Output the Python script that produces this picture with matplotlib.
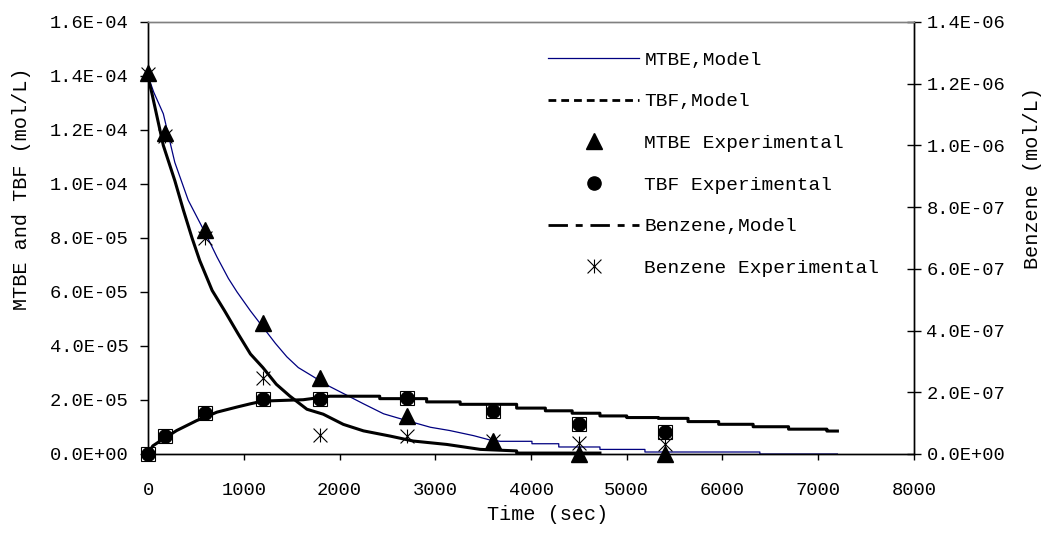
import matplotlib
matplotlib.use('Agg')
import matplotlib.pyplot as plt
from matplotlib.lines import Line2D
from matplotlib.path import Path
from matplotlib.ticker import MultipleLocator, FormatStrFormatter

plt.rcParams['font.family'] = ['Liberation Mono', 'DejaVu Sans Mono']

## experimental sampling times (sec)
exp_t = [0, 180, 600, 1200, 1800, 2700, 3600, 4500, 5400]
mtbe_exp = [1.41e-4, 1.19e-4, 8.3e-5, 4.87e-5, 2.8e-5, 1.39e-5, 4.8e-6, 0, 0]
tbf_exp = [0, 6.5e-6, 1.52e-5, 2.02e-5, 2.02e-5, 2.07e-5, 1.59e-5, 1.10e-5, 8.2e-6]
benz_exp = [1.23e-6, 1.03e-6, 7.0e-7, 2.45e-7, 6.2e-8, 5.8e-8, 4.2e-8, 3.7e-8, 3.1e-8]

## model curves (repeated times = stair steps in the tail)
mtbe_t = [0, 60, 160, 280, 420, 610, 720, 840, 930, 1070, 1200, 1330, 1450, 1570, 1710,
          1870, 2080, 2250, 2460, 2700, 2950, 3150, 3400, 3570, 3680,
          4010, 4010, 4290, 4290, 4720, 4720, 5190, 5190, 6390, 6390, 7200]
mtbe_v = [1.40e-4, 1.34e-4, 1.26e-4, 1.08e-4, 9.4e-5, 8.1e-5, 7.3e-5, 6.5e-5, 6.0e-5,
          5.3e-5, 4.7e-5, 4.1e-5, 3.6e-5, 3.2e-5, 2.9e-5, 2.55e-5, 2.17e-5, 1.86e-5,
          1.49e-5, 1.24e-5, 9.9e-6, 8.7e-6, 6.8e-6, 5.2e-6, 4.7e-6,
          4.7e-6, 3.8e-6, 3.8e-6, 2.6e-6, 2.6e-6, 1.7e-6, 1.7e-6, 7.4e-7, 7.4e-7, 0, 0]

tbf_t = [0, 50, 160, 300, 510, 720, 930, 1070, 1200, 1450, 1620, 1900,
         2420, 2420, 2910, 2910, 3260, 3260, 3850, 3850, 4150, 4150, 4430, 4430,
         4720, 4720, 5000, 5000, 5330, 5330, 5640, 5640, 5960, 5960, 6320, 6320,
         6690, 6690, 7090, 7090, 7200]
tbf_v = [0, 3.0e-6, 5.6e-6, 8.7e-6, 1.24e-5, 1.55e-5, 1.74e-5, 1.86e-5, 1.96e-5,
         1.99e-5, 2.01e-5, 2.14e-5,
         2.14e-5, 2.05e-5, 2.05e-5, 1.93e-5, 1.93e-5, 1.84e-5, 1.84e-5, 1.70e-5,
         1.70e-5, 1.60e-5, 1.60e-5, 1.51e-5, 1.51e-5, 1.41e-5, 1.41e-5, 1.35e-5,
         1.35e-5, 1.32e-5, 1.32e-5, 1.20e-5, 1.20e-5, 1.10e-5, 1.10e-5, 1.01e-5,
         1.01e-5, 9.2e-6, 9.2e-6, 8.5e-6, 8.5e-6]

benz_t = [0, 40, 160, 280, 370, 460, 540, 670, 800, 940, 1070, 1200, 1340, 1480, 1660,
          1830, 2040, 2250, 2530, 2770, 3120, 3470, 3850, 3850, 4720]
benz_v = [1.22e-6, 1.17e-6, 1.0e-6, 8.86e-7, 7.9e-7, 7.0e-7, 6.27e-7, 5.3e-7, 4.64e-7,
          3.9e-7, 3.24e-7, 2.8e-7, 2.26e-7, 1.88e-7, 1.45e-7, 1.29e-7, 9.6e-8, 7.5e-8,
          5.8e-8, 4.2e-8, 3.1e-8, 1.5e-8, 1.0e-8, 3e-9, 3e-9]

# Excel style star marker: X with a vertical bar
star = Path([(-1, -1), (1, 1), (-1, 1), (1, -1), (0, -1), (0, 1)],
            [Path.MOVETO, Path.LINETO, Path.MOVETO, Path.LINETO, Path.MOVETO, Path.LINETO])

fig = plt.figure(figsize=(10.53, 5.44), dpi=100)
ax = fig.add_axes([148/1053, 90/544, 766/1053, 432/544])
ax2 = ax.twinx()

ax.plot(mtbe_t, mtbe_v, color='#000080', lw=0.9)
ax.plot(tbf_t, tbf_v, color='black', lw=2.2)
ax2.plot(benz_t, benz_v, color='black', lw=2.2)

ax.plot(exp_t, mtbe_exp, ls='none', marker='^', ms=12, color='black', clip_on=False, zorder=5)
ax.plot(exp_t, tbf_exp, ls='none', marker='s', ms=10, mfc='none', mec='black', mew=0.8,
        clip_on=False, zorder=5)
ax.plot(exp_t, tbf_exp, ls='none', marker='o', ms=9.5, color='black', clip_on=False, zorder=6)
ax2.plot(exp_t, benz_exp, ls='none', marker=star, ms=10, mfc='none', mec='black', mew=0.8,
         clip_on=False, zorder=6)

ax.set_xlim(0, 8000)
ax.set_ylim(0, 1.6e-4)
ax2.set_ylim(0, 1.4e-6)
ax.xaxis.set_major_locator(MultipleLocator(1000))
ax.yaxis.set_major_locator(MultipleLocator(2e-5))
ax2.yaxis.set_major_locator(MultipleLocator(2e-7))
ax.yaxis.set_major_formatter(FormatStrFormatter('%.1E'))
ax2.yaxis.set_major_formatter(FormatStrFormatter('%.1E'))

ax.tick_params(axis='x', direction='out', length=4, width=1, labelsize=13.5, pad=16)
ax.tick_params(axis='y', direction='out', length=6, width=1, labelsize=13.5, pad=8)
ax2.tick_params(axis='y', direction='inout', length=10, width=1, labelsize=13.5, pad=4)

for a in (ax, ax2):
    a.spines['top'].set_color('#808080')
    a.spines['top'].set_linewidth(1)
    for s in ('left', 'right', 'bottom'):
        a.spines[s].set_color('black')
        a.spines[s].set_linewidth(1)

fig.text(22/1053, 1-189/544, 'MTBE and TBF (mol/L)', rotation=90, ha='center', va='center', fontsize=14.5)
fig.text(1032/1053, 1-178/544, 'Benzene (mol/L)', rotation=90, ha='center', va='center', fontsize=14.5)
fig.text(548/1053, 1-514/544, 'Time (sec)', ha='center', va='center', fontsize=14.5)

## legend with the dash styles of the original series
handles = [
    Line2D([], [], color='#000080', lw=0.9),
    Line2D([], [], color='black', lw=2.0, dashes=(2.8, 1.8)),
    Line2D([], [], ls='none', marker='^', ms=12, color='black'),
    Line2D([], [], ls='none', marker='o', ms=9.5, color='black'),
    Line2D([], [], color='black', lw=2.0, dashes=(7, 2.8, 2.5, 2.8)),
    Line2D([], [], ls='none', marker=star, ms=10, mfc='none', mec='black', mew=0.8),
]
labels = ['MTBE,Model', 'TBF,Model', 'MTBE Experimental', 'TBF Experimental',
          'Benzene,Model', 'Benzene Experimental']
ax2.legend(handles, labels, loc='upper left', bbox_to_anchor=(548/1053, 1-51/544),
           bbox_transform=fig.transFigure, frameon=False, fontsize=14, borderpad=0,
           borderaxespad=0, handlelength=4.7, handletextpad=0.25, labelspacing=1.24,
           numpoints=1)

fig.savefig('out.png', dpi=100)
